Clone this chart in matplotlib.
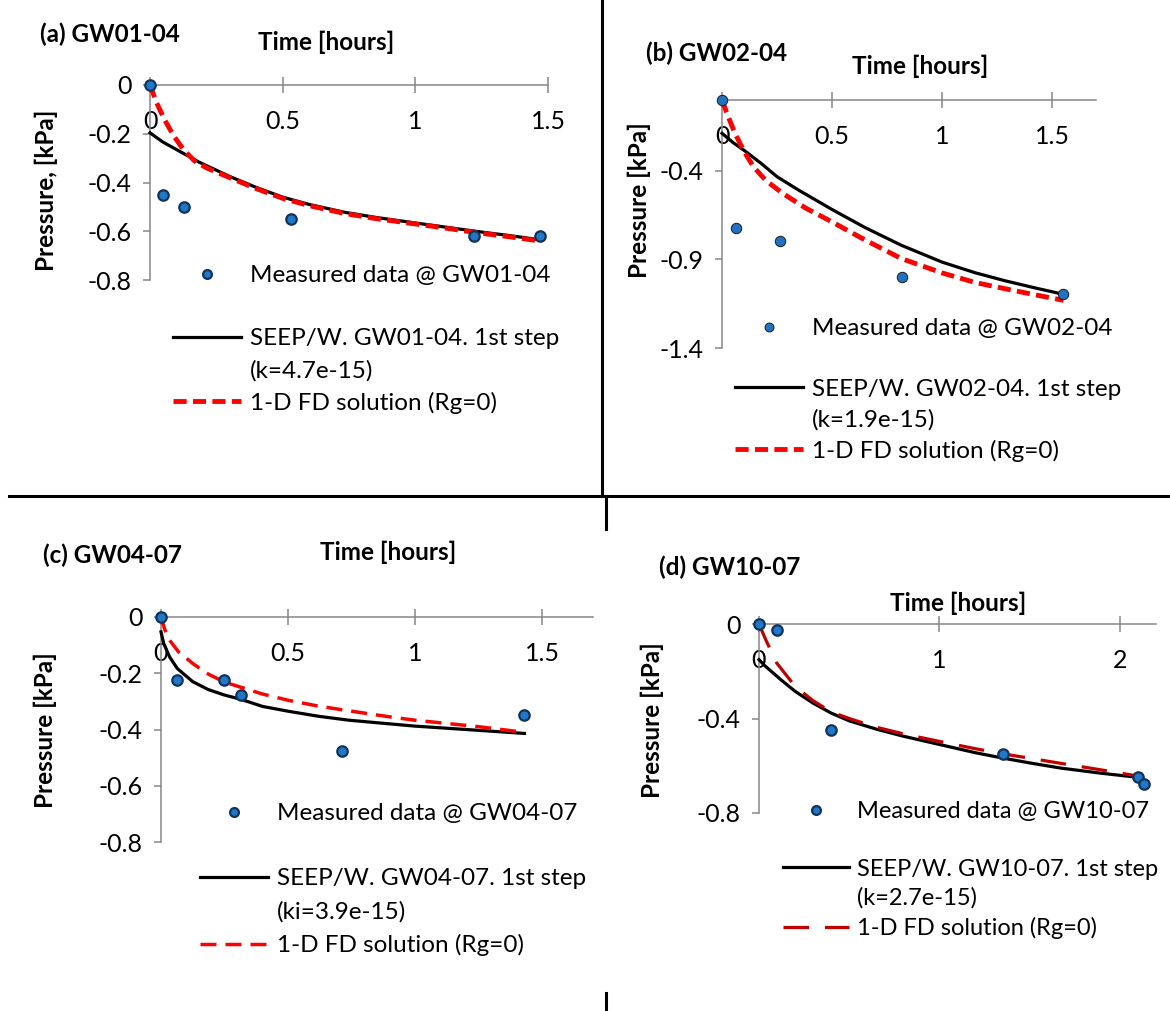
import matplotlib
matplotlib.use("Agg")
import matplotlib.pyplot as plt
from matplotlib.lines import Line2D

# ---- data ----
# (a) GW01-04
a_meas_t = [0, 0.05, 0.13, 0.53, 1.22, 1.47]
a_meas_p = [0, -0.45, -0.50, -0.55, -0.62, -0.62]
a_seep_t = [0, 0.02, 0.05, 0.1, 0.15, 0.184, 0.3, 0.4, 0.5, 0.6, 0.733, 0.85, 1.0, 1.1, 1.24, 1.35, 1.47]
a_seep_p = [-0.196, -0.212, -0.235, -0.265, -0.295, -0.316, -0.375, -0.42, -0.46, -0.49, -0.522,
            -0.543, -0.566, -0.581, -0.602, -0.617, -0.635]
a_fd_t = [0, 0.025, 0.054, 0.09, 0.126, 0.169, 0.213, 0.3, 0.4, 0.5, 0.6, 0.733, 0.85, 1.0, 1.1,
          1.24, 1.35, 1.47]
a_fd_p = [0, -0.073, -0.141, -0.21, -0.265, -0.313, -0.34, -0.38, -0.425, -0.465, -0.495, -0.527,
          -0.548, -0.57, -0.585, -0.607, -0.622, -0.64]

# (b) GW02-04
b_meas_t = [0, 0.065, 0.263, 0.817, 1.551]
b_meas_p = [0, -0.723, -0.796, -0.997, -1.095]
b_seep_t = [0, 0.05, 0.109, 0.18, 0.25, 0.35, 0.5, 0.65, 0.815, 1.0, 1.15, 1.285, 1.42, 1.552]
b_seep_p = [-0.188, -0.24, -0.292, -0.36, -0.433, -0.51, -0.618, -0.72, -0.82, -0.915, -0.975,
            -1.02, -1.06, -1.097]
b_fd_t = [0, 0.017, 0.035, 0.059, 0.1, 0.143, 0.2, 0.277, 0.38, 0.5, 0.65, 0.815, 1.0, 1.15,
          1.285, 1.42, 1.552]
b_fd_p = [0, -0.057, -0.115, -0.188, -0.29, -0.377, -0.455, -0.528, -0.61, -0.688, -0.79, -0.895,
          -0.976, -1.03, -1.065, -1.099, -1.131]

# (c) GW04-07
c_meas_t = [0, 0.064, 0.248, 0.315, 0.712, 1.43]
c_meas_p = [0, -0.225, -0.225, -0.276, -0.475, -0.349]
c_seep_t = [0, 0.011, 0.034, 0.064, 0.125, 0.186, 0.248, 0.315, 0.4, 0.5, 0.62, 0.74, 0.9, 1.0,
            1.25, 1.43]
c_seep_p = [-0.053, -0.095, -0.142, -0.183, -0.23, -0.258, -0.277, -0.293, -0.318, -0.335, -0.353,
            -0.367, -0.38, -0.388, -0.403, -0.414]
c_fd_t = [0, 0.015, 0.034, 0.07, 0.126, 0.18, 0.248, 0.315, 0.4, 0.5, 0.62, 0.75, 0.9, 1.0, 1.25, 1.43]
c_fd_p = [0, -0.045, -0.083, -0.125, -0.166, -0.2, -0.231, -0.25, -0.274, -0.296, -0.317, -0.335,
          -0.355, -0.367, -0.39, -0.41]

# (d) GW10-07
d_meas_t = [0, 0.102, 0.40, 1.354, 2.10, 2.133]
d_meas_p = [0, -0.025, -0.45, -0.55, -0.649, -0.676]
d_seep_t = [0, 0.03, 0.078, 0.12, 0.2, 0.3, 0.4, 0.5, 0.65, 0.8, 1.0, 1.2, 1.354, 1.5, 1.673, 1.9, 2.10]
d_seep_p = [-0.151, -0.175, -0.207, -0.235, -0.285, -0.335, -0.377, -0.41, -0.445, -0.475, -0.51,
            -0.545, -0.568, -0.588, -0.61, -0.632, -0.649]
d_fd_t = [0, 0.037, 0.098, 0.2, 0.3, 0.4, 0.5, 0.65, 0.8, 1.0, 1.2, 1.354, 1.5, 1.673, 1.9, 2.133]
d_fd_p = [0, -0.066, -0.165, -0.264, -0.325, -0.372, -0.40, -0.437, -0.465, -0.497, -0.528, -0.55,
          -0.568, -0.59, -0.618, -0.648]

plt.rcParams["font.family"] = ["Lato", "DejaVu Sans"]
plt.rcParams["axes.unicode_minus"] = False

W, H = 1170, 1011
fig = plt.figure(figsize=(W / 100, H / 100), dpi=100)

AXIS_GREY = "#868686"
FS = 18
BOLD_FS = 17.5


def panel(box, xmax, ymin, xticks, yticks, title, title_xy, xlab_xy, ylabel, ylab_xy):
    left, right, top, bottom = box
    ax = fig.add_axes([left / W, 1 - bottom / H, (right - left) / W, (bottom - top) / H])
    ax.set_xlim(0, xmax)
    ax.set_ylim(ymin, 0)
    ax.patch.set_alpha(0)
    for s in ["bottom", "right"]:
        ax.spines[s].set_visible(False)
    for s in ["top", "left"]:
        ax.spines[s].set_color(AXIS_GREY)
        ax.spines[s].set_linewidth(1.1)
    ax.set_xticks(xticks)
    ax.set_xticklabels([f"{v:g}" for v in xticks])
    ax.set_yticks(yticks)
    ax.set_yticklabels([f"{v:g}" for v in yticks])
    ax.tick_params(axis="x", top=True, labeltop=True, bottom=False, labelbottom=False,
                   direction="inout", length=11, width=1.1, color=AXIS_GREY,
                   pad=-40, labelsize=FS)
    ax.tick_params(axis="y", direction="out", length=5, width=1.1, color=AXIS_GREY,
                   pad=8, labelsize=FS)

    def frac(xy):
        return ((xy[0] - left) / (right - left), (bottom - xy[1]) / (bottom - top))

    ax.text(*frac(title_xy), title, transform=ax.transAxes, fontsize=BOLD_FS,
            fontweight="bold", ha="left", va="center")
    ax.text(*frac(xlab_xy), "Time [hours]", transform=ax.transAxes, fontsize=BOLD_FS,
            fontweight="bold", ha="center", va="center")
    ax.text(*frac(ylab_xy), ylabel, transform=ax.transAxes, fontsize=BOLD_FS,
            fontweight="bold", ha="center", va="center", rotation=90)
    return ax


def draw(ax, mt, mp, st, sp, ft, fp, fd_style, marker_style, labels, leg_xy, spacing, lfs=17.5):
    meas, = ax.plot(mt, mp, linestyle="none", marker="o", clip_on=False, zorder=5,
                    **marker_style)
    seep, = ax.plot(st, sp, color="black", lw=2.3, clip_on=False, zorder=3)
    fd, = ax.plot(ft, fp, clip_on=False, zorder=4, **fd_style)
    blank = Line2D([], [], linestyle="none")
    fig.legend([meas, blank, seep, blank, fd],
               [labels[0], " ", labels[1], labels[2], labels[3]],
               loc="upper left", bbox_to_anchor=(leg_xy[0] / W, 1 - leg_xy[1] / H),
               bbox_transform=fig.transFigure, frameon=False, fontsize=lfs,
               borderpad=0, borderaxespad=0, handlelength=2.8, handletextpad=0.35,
               labelspacing=spacing, numpoints=1, markerscale=0.85)


dark_marker = dict(markersize=7.5, markerfacecolor="#1F78C8",
                   markeredgecolor="#12335C", markeredgewidth=1.6)
light_marker = dict(markersize=7.5, markerfacecolor="#2272C3",
                    markeredgecolor="#1A1A1A", markeredgewidth=0.7)

# (a)
ax_a = panel((150, 548, 85, 280), 1.5, -0.8, [0, 0.5, 1, 1.5], [0, -0.2, -0.4, -0.6, -0.8],
             "(a) GW01-04", (40, 34), (326, 42), "Pressure, [kPa]", (46, 190))
draw(ax_a, a_meas_t, a_meas_p, a_seep_t, a_seep_p, a_fd_t, a_fd_p,
     dict(color="#FF0000", lw=3.5, dashes=(2.7, 1.3)), dark_marker,
     ["Measured data @ GW01-04", "SEEP/W. GW01-04. 1st step", "(k=4.7e-15)",
      "1-D FD solution (Rg=0)"], (173, 265), 0.435)

# (b)
ax_b = panel((722, 1096, 100, 348), 1.7, -1.4, [0, 0.5, 1, 1.5], [-0.4, -0.9, -1.4],
             "(b) GW02-04", (646, 53), (920, 66), "Pressure [kPa]", (639, 200))
draw(ax_b, b_meas_t, b_meas_p, b_seep_t, b_seep_p, b_fd_t, b_fd_p,
     dict(color="#FF0000", lw=3.5, dashes=(2.7, 1.3)), light_marker,
     ["Measured data @ GW02-04", "SEEP/W. GW02-04. 1st step", "(k=1.9e-15)",
      "1-D FD solution (Rg=0)"], (735, 318), 0.38)

# (c)
ax_c = panel((161, 593, 617, 842), 1.7, -0.8, [0, 0.5, 1, 1.5], [0, -0.2, -0.4, -0.6, -0.8],
             "(c) GW04-07", (43, 555), (388, 552), "Pressure [kPa]", (45, 730))
draw(ax_c, c_meas_t, c_meas_p, c_seep_t, c_seep_p, c_fd_t, c_fd_p,
     dict(color="#FF0000", lw=2.5, dashes=(4.6, 2.6)), dark_marker,
     ["Measured data @ GW04-07", "SEEP/W. GW04-07. 1st step", "(ki=3.9e-15)",
      "1-D FD solution (Rg=0)"], (200, 803), 0.48)

# (d)
ax_d = panel((759, 1156, 624, 813), 2.2, -0.8, [0, 1, 2], [0, -0.4, -0.8],
             "(d) GW10-07", (659, 567), (958, 603), "Pressure [kPa]", (652, 720))
draw(ax_d, d_meas_t, d_meas_p, d_seep_t, d_seep_p, d_fd_t, d_fd_p,
     dict(color="#C00000", lw=2.3, dashes=(8, 5)), dark_marker,
     ["Measured data @ GW10-07", "SEEP/W. GW10-07. 1st step", "(k=2.7e-15)",
      "1-D FD solution (Rg=0)"], (783, 801), 0.33, lfs=17)

# panel separators
for xs, ys in [((602, 602), (0, 496)), ((9, 1170), (496, 496)),
               ((606, 606), (496, 529)), ((606, 606), (993, 1011))]:
    fig.add_artist(Line2D([x / W for x in xs], [1 - y / H for y in ys],
                          color="black", lw=2.2, transform=fig.transFigure))

fig.savefig("out.png", dpi=100)
